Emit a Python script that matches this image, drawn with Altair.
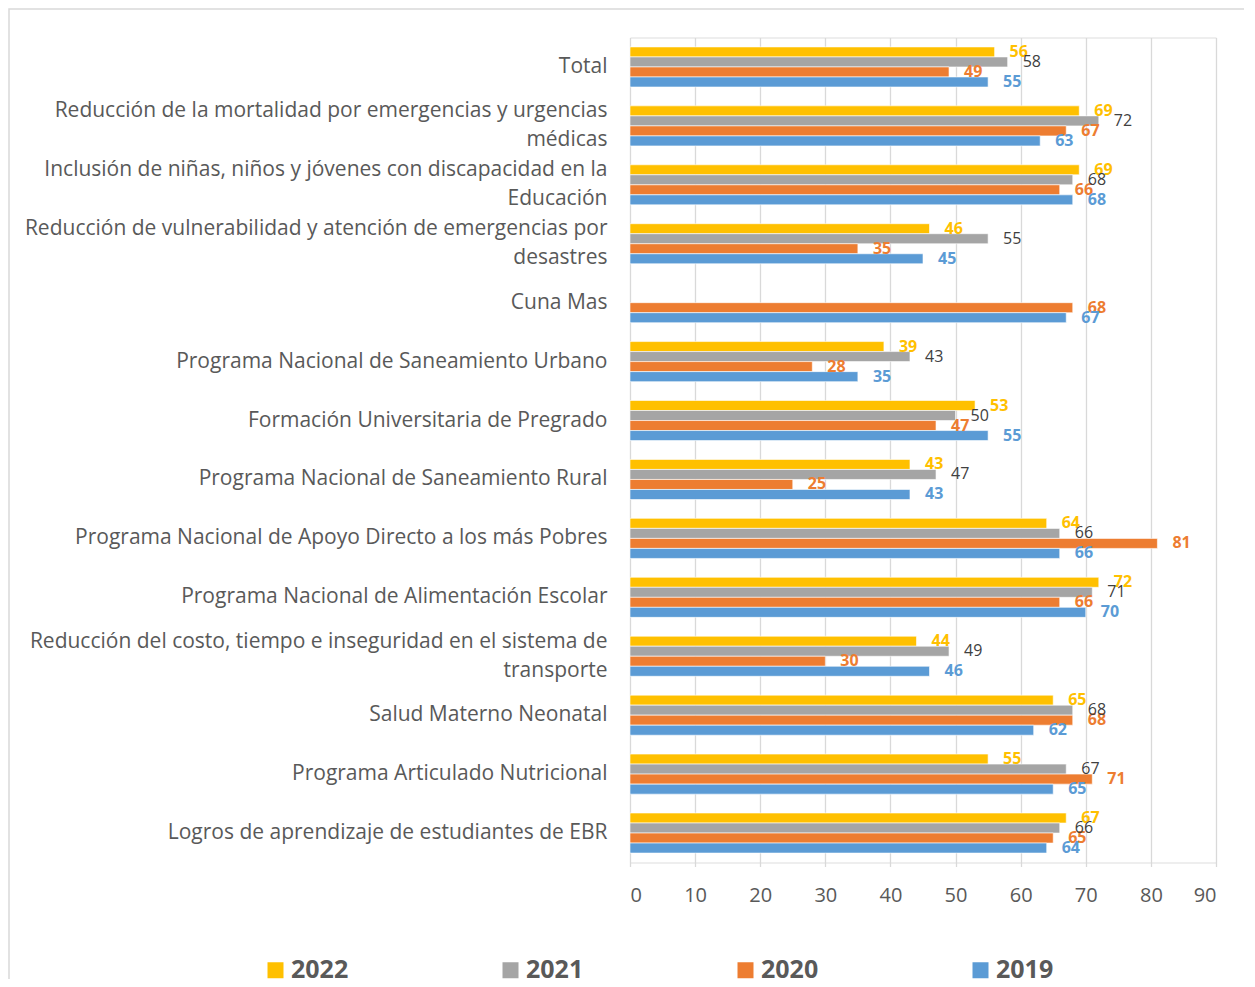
import altair as alt
import pandas as pd

categories = [
    "Total",
    "Reducción de la mortalidad por emergencias y urgencias\nmédicas",
    "Inclusión de niñas, niños y jóvenes con discapacidad en la\nEducación",
    "Reducción de vulnerabilidad y atención de emergencias por\ndesastres",
    "Cuna Mas",
    "Programa Nacional de Saneamiento Urbano",
    "Formación Universitaria de Pregrado",
    "Programa Nacional de Saneamiento Rural",
    "Programa Nacional de Apoyo Directo a los más Pobres",
    "Programa Nacional de Alimentación Escolar",
    "Reducción del costo, tiempo e inseguridad en el sistema de\ntransporte",
    "Salud Materno Neonatal",
    "Programa Articulado Nutricional",
    "Logros de aprendizaje de estudiantes de EBR",
]
years = ["2022", "2021", "2020", "2019"]
v2022 = [56, 69, 69, 46, None, 39, 53, 43, 64, 72, 44, 65, 55, 67]
v2021 = [58, 72, 68, 55, None, 43, 50, 47, 66, 71, 49, 68, 67, 66]
v2020 = [49, 67, 66, 35, 68, 28, 47, 25, 81, 66, 30, 68, 71, 65]
v2019 = [55, 63, 68, 45, 67, 35, 55, 43, 66, 70, 46, 62, 65, 64]
bar_colors = ["#FFC000", "#A5A5A5", "#ED7D31", "#5B9BD5"]
x_ticks = list(range(0, 91, 10))

rows = []
for yr, vals in zip(years, [v2022, v2021, v2020, v2019]):
    for c, v in zip(categories, vals):
        rows.append({"cat": c, "year": yr, "value": v})
df = pd.DataFrame(rows)

FONT = "Open Sans"

x_enc = alt.X(
    "value:Q",
    scale=alt.Scale(domain=[0, 90], nice=False),
    axis=alt.Axis(
        title=None, values=x_ticks, grid=True, gridColor="#d9d9d9", gridWidth=1.3,
        domain=False, tickColor="#d9d9d9", tickSize=4, tickWidth=1.3,
        labelFontSize=20, labelColor="#595959", labelPadding=19, labelFont=FONT,
    ),
)
y_enc = alt.Y(
    "cat:N",
    sort=categories,
    scale=alt.Scale(paddingInner=0.32, paddingOuter=0.16),
    axis=alt.Axis(
        title=None, labelExpr="split(datum.label, '\\n')", labelFontSize=21,
        labelColor="#595959", labelFont=FONT, labelPadding=23, ticks=False,
        domain=False, labelLineHeight=29, labelLimit=620,
        labelOffset={"condition": {"test": "indexof(datum.value, '\\n') >= 0", "value": -14.5}, "value": 0},
    ),
)
yoff_enc = alt.YOffset("year:N", sort=years, scale=alt.Scale(paddingInner=0, paddingOuter=0))
color_scale = alt.Scale(domain=years, range=bar_colors)

base = alt.Chart(df)

bars = base.mark_bar(stroke="white", strokeWidth=0.6).encode(
    x=x_enc,
    y=y_enc,
    yOffset=yoff_enc,
    color=alt.Color(
        "year:N", sort=years, scale=color_scale,
        legend=alt.Legend(
            title=None, orient="none", legendX=-367, legendY=920, direction="horizontal",
            columns=4, symbolType="square", symbolSize=256, symbolStrokeWidth=0,
            labelFontSize=25, labelFontWeight="bold", labelColor="#595959", labelFont=FONT,
            columnPadding=149, labelOffset=3, padding=0,
        ),
    ),
)

labels_bold = base.transform_filter(
    "isValid(datum.value) && datum.year != '2021'"
).mark_text(
    align="left", baseline="middle", dx=15, fontSize=16, fontWeight="bold", font=FONT
).encode(
    x=x_enc, y=y_enc, yOffset=yoff_enc,
    text=alt.Text("value:Q", format=".0f"),
    color=alt.Color("year:N", scale=color_scale, legend=None),
)

labels_normal = base.transform_filter(
    "isValid(datum.value) && datum.year == '2021'"
).mark_text(
    align="left", baseline="middle", dx=15, fontSize=16, font=FONT, color="#404040"
).encode(
    x=x_enc, y=y_enc, yOffset=yoff_enc,
    text=alt.Text("value:Q", format=".0f"),
)

frame = alt.Chart(alt.Data(values=[{"k": 1}])).mark_rect(
    filled=False, stroke="#d9d9d9", strokeWidth=1.5
).encode(
    x=alt.value(-621), x2=alt.value(700), y=alt.value(-28.5), y2=alt.value(1100)
)

chart = alt.layer(frame, bars, labels_bold, labels_normal).properties(
    width=586,
    height=825,
    autosize=alt.AutoSizeParams(type="none"),
    padding={"left": 622, "top": 29.5, "right": 28, "bottom": 116},
).configure_view(strokeWidth=0).configure(background="white")

chart.save("out.html", embed_options={"renderer": "svg", "actions": False})
